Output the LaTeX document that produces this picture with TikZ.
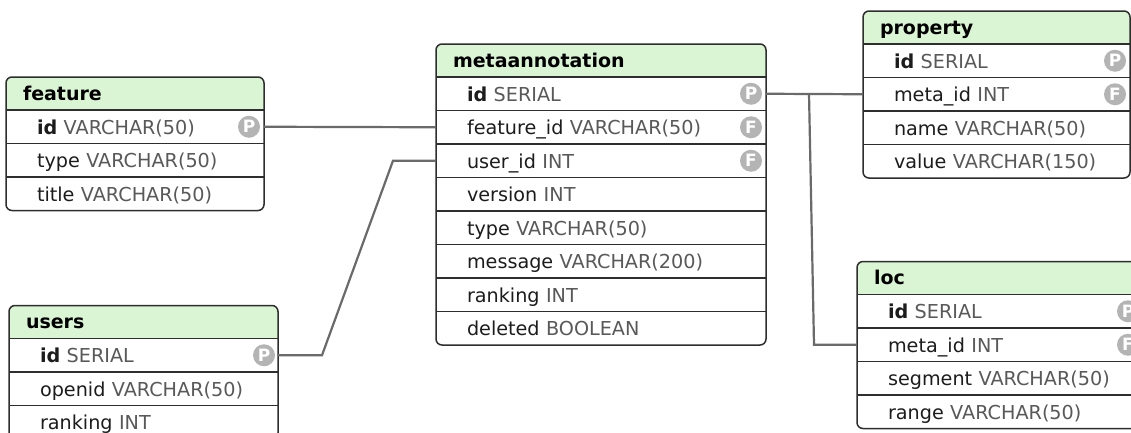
\documentclass[tikz,border=0pt]{standalone}
\usepackage{fontspec}
\setmainfont{DejaVu Sans}
\usepackage{tikz}
\usetikzlibrary{positioning,backgrounds}
\usepackage{xcolor}
\definecolor{hdrgreen}{HTML}{DAF5D3}
\definecolor{tline}{HTML}{2E2E2E}
\definecolor{cname}{HTML}{1C1C1C}
\definecolor{ctype}{HTML}{595959}
\definecolor{keygray}{HTML}{B4B4B4}
\definecolor{relgray}{HTML}{6A6A6A}
\newcommand{\dtype}[1]{\mbox{\textcolor{ctype}{#1}}}
% green header band, only the top corners rounded
\newcommand{\hdrband}[1]{%
  \begin{scope}[on background layer]
    \fill[hdrgreen] (#1.south west) [rounded corners=6pt] -- (#1.north west)
      -- (#1.north east) [sharp corners] -- (#1.south east) -- cycle;
  \end{scope}}

\tikzset{
  hdr/.style={anchor=north west, outer sep=0pt, inner xsep=17pt, inner ysep=0pt,
    text width=#1, text height=23pt, text depth=10pt, align=left, text=black,
    font=\fontsize{19}{22}\selectfont\bfseries},
  fieldrow/.style={anchor=north west, outer sep=0pt, inner xsep=31pt, inner ysep=0pt,
    text width=#1, text height=24pt, text depth=9.5pt, align=left, text=cname,
    font=\fontsize{19.2}{22}\selectfont},
  keybadge/.style={circle, fill=keygray, text=white, inner sep=0pt, minimum size=22pt,
    font=\fontsize{17}{17}\selectfont\bfseries},
  rowline/.style={tline, line width=1.3pt},
  tablebox/.style={tline, line width=1.5pt, rounded corners=6pt},
  relline/.style={relgray, line width=2.2pt}
}

\begin{document}
\begin{tikzpicture}[x=1pt, y=-1pt]
\path[use as bounding box] (0,0) rectangle (1131,432);
\begin{scope}[on background layer]
  \fill[white] (0,0) rectangle (1131,432);
\end{scope}
% ================= feature =================
\node[hdr=224pt] (fe) at (6,77) {feature};
\node[fieldrow=196pt, below=0pt of fe] (fe-id) {\textbf{id}~\dtype{VARCHAR(50)}};
\node[fieldrow=196pt, below=0pt of fe-id] (fe-typ) {type~\dtype{VARCHAR(50)}};
\node[fieldrow=196pt, below=0pt of fe-typ] (fe-tit) {title~\dtype{VARCHAR(50)}};
\node[keybadge] (fe-pk) at ([xshift=-15pt]fe-id.east) {P};
\foreach \r in {fe-id,fe-typ,fe-tit}{\draw[rowline] (\r.north west) -- (\r.north east);}
\hdrband{fe}
\draw[tablebox] (fe.north west) rectangle (fe-tit.south east);
% ================= users =================
\node[hdr=235pt] (us) at (9,305.5) {users};
\node[fieldrow=207pt, below=0pt of us] (us-id) {\textbf{id}~\dtype{SERIAL}};
\node[fieldrow=207pt, below=0pt of us-id] (us-oid) {openid~\dtype{VARCHAR(50)}};
\node[fieldrow=207pt, below=0pt of us-oid] (us-rnk) {ranking~\dtype{INT}};
\node[keybadge] (us-pk) at ([xshift=-14pt]us-id.east) {P};
\foreach \r in {us-id,us-oid,us-rnk}{\draw[rowline] (\r.north west) -- (\r.north east);}
\hdrband{us}
\draw[tablebox] (us.north west) rectangle (us-rnk.south east);
% ================= metaannotation =================
\node[hdr=296pt] (ma) at (436,44) {metaannotation};
\node[fieldrow=268pt, below=0pt of ma] (ma-id) {\textbf{id}~\dtype{SERIAL}};
\node[fieldrow=268pt, below=0pt of ma-id] (ma-fid) {feature\_id~\dtype{VARCHAR(50)}};
\node[fieldrow=268pt, below=0pt of ma-fid] (ma-uid) {user\_id~\dtype{INT}};
\node[fieldrow=268pt, below=0pt of ma-uid] (ma-ver) {version~\dtype{INT}};
\node[fieldrow=268pt, below=0pt of ma-ver] (ma-typ) {type~\dtype{VARCHAR(50)}};
\node[fieldrow=268pt, below=0pt of ma-typ] (ma-msg) {message~\dtype{VARCHAR(200)}};
\node[fieldrow=268pt, below=0pt of ma-msg] (ma-rnk) {ranking~\dtype{INT}};
\node[fieldrow=268pt, below=0pt of ma-rnk] (ma-del) {deleted~\dtype{BOOLEAN}};
\node[keybadge] (ma-pk) at ([xshift=-15pt]ma-id.east) {P};
\node[keybadge] (ma-fk1) at ([xshift=-15pt]ma-fid.east) {F};
\node[keybadge] (ma-fk2) at ([xshift=-15pt]ma-uid.east) {F};
\foreach \r in {ma-id,ma-fid,ma-uid,ma-ver,ma-typ,ma-msg,ma-rnk,ma-del}
  {\draw[rowline] (\r.north west) -- (\r.north east);}
\hdrband{ma}
\draw[tablebox] (ma.north west) rectangle (ma-del.south east);
% ================= property =================
\node[hdr=233pt] (pr) at (863,11) {property};
\node[fieldrow=205pt, below=0pt of pr] (pr-id) {\textbf{id}~\dtype{SERIAL}};
\node[fieldrow=205pt, below=0pt of pr-id] (pr-mid) {meta\_id~\dtype{INT}};
\node[fieldrow=205pt, below=0pt of pr-mid] (pr-nam) {name~\dtype{VARCHAR(50)}};
\node[fieldrow=205pt, below=0pt of pr-nam] (pr-val) {value~\dtype{VARCHAR(150)}};
\node[keybadge] (pr-pk) at ([xshift=-15pt]pr-id.east) {P};
\node[keybadge] (pr-fk) at ([xshift=-15pt]pr-mid.east) {F};
\foreach \r in {pr-id,pr-mid,pr-nam,pr-val}{\draw[rowline] (\r.north west) -- (\r.north east);}
\hdrband{pr}
\draw[tablebox] (pr.north west) rectangle (pr-val.south east);
% ================= loc =================
\node[hdr=252pt] (lo) at (857,261.5) {loc};
\node[fieldrow=224pt, below=0pt of lo] (lo-id) {\textbf{id}~\dtype{SERIAL}};
\node[fieldrow=224pt, below=0pt of lo-id] (lo-mid) {meta\_id~\dtype{INT}};
\node[fieldrow=224pt, below=0pt of lo-mid] (lo-seg) {segment~\dtype{VARCHAR(50)}};
\node[fieldrow=224pt, below=0pt of lo-seg] (lo-rng) {range~\dtype{VARCHAR(50)}};
\node[keybadge] (lo-pk) at ([xshift=-15pt]lo-id.east) {P};
\node[keybadge] (lo-fk) at ([xshift=-15pt]lo-mid.east) {F};
\foreach \r in {lo-id,lo-mid,lo-seg,lo-rng}{\draw[rowline] (\r.north west) -- (\r.north east);}
\hdrband{lo}
\draw[tablebox] (lo.north west) rectangle (lo-rng.south east);
% ================= relations =================
\draw[relline] (fe-id.east) -- (ma-fid.west);
\draw[relline] (us-id.east) -- ++(44pt,0) -- ([xshift=-43pt]ma-uid.west) -- (ma-uid.west);
\draw[relline] (ma-id.east) -- (pr-mid.west);
\coordinate (split) at ([xshift=43pt]ma-id.east);
\draw[relline] (split) -- ([xshift=-43pt]lo-mid.west) -- (lo-mid.west);
\end{tikzpicture}
\end{document}
